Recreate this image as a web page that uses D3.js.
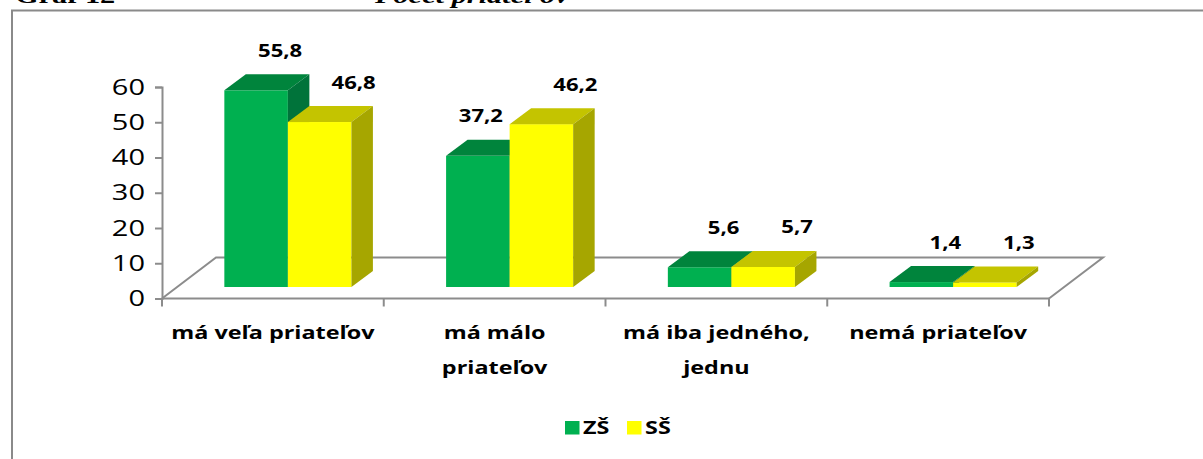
<!DOCTYPE html>
<html>
<head>
<meta charset="utf-8">
<script src="https://cdn.jsdelivr.net/npm/d3@7"></script>
<style>
  body { margin: 0; background: #fff; }
  svg { display: block; }
</style>
</head>
<body>
<div id="chart"></div>
<script>
// data
const categories = [["má veľa priateľov"], ["má málo", "priateľov"], ["má iba jedného,", "jednu"], ["nemá priateľov"]];
const series = ["ZŠ", "SŠ"];
const valuesZS = [55.8, 37.2, 5.6, 1.4];
const valuesSS = [46.8, 46.2, 5.7, 1.3];
const yTicks = [0, 10, 20, 30, 40, 50, 60];

const W = 1203, H = 459;
const SX = 1.3; // picture is stretched sideways
const colors = {
    "ZŠ": { front: "#00b050", top: "#00843c", side: "#00733a" },
    "SŠ": { front: "#ffff00", top: "#c4c400", side: "#a6a600" }
};

const svg = d3.select("#chart").append("svg")
    .attr("width", W)
    .attr("height", H);

// stretched text helper
function label(g, x, y, str, size, weight, anchor, family, sx) {
    return g.append("text")
        .attr("transform", `translate(${x},${y}) scale(${sx || SX},1)`)
        .attr("text-anchor", anchor || "middle")
        .style("font-family", family || "'Open Sans', sans-serif")
        .style("font-size", size + "px")
        .style("font-weight", weight)
        .style("fill", "#000")
        .text(str);
}

// page header (cut off at the top, as in the source page)
label(svg, 15, 3, "Graf  12", 22, "bold", "start", "'Liberation Serif', serif", 1.38);
label(svg, 375, 3, "Počet priateľov", 22, "bold", "start", "'Liberation Serif', serif", 1.38)
    .style("font-style", "italic");

// chart frame
svg.append("rect")
    .attr("x", 12).attr("y", 10.5)
    .attr("width", W).attr("height", H)
    .attr("fill", "none")
    .attr("stroke", "#8a8a8a")
    .attr("stroke-width", 2);

const x0 = 162, x1 = 1049;
const x = d3.scaleBand()
    .domain(d3.range(categories.length))
    .range([x0, x1])
    .paddingInner(0.427)
    .paddingOuter(0.2135);
const xs = d3.scaleBand().domain(series).range([0, x.bandwidth()]);

const y = d3.scaleLinear().domain([0, 60]).range([298.5, 87]);

// floor depth and bar depth
const floorDx = 54, floorDy = -41;
const baseDx = 15, baseDy = -11.5;
const barDx = 21.5, barDy = -16;

const grid = "#8c8c8c";
const floor = svg.append("g")
    .attr("fill", "none")
    .attr("stroke", grid)
    .attr("stroke-width", 2);
floor.append("path")
    .attr("d", `M${x0},${y(0)} L${x0 + floorDx},${y(0) + floorDy} L${x1 + floorDx},${y(0) + floorDy} L${x1},${y(0)}`);
floor.append("line")
    .attr("x1", x0).attr("x2", x1)
    .attr("y1", y(0)).attr("y2", y(0));
// category ticks
const step = x.step();
d3.range(categories.length + 1).forEach(i => {
    const tx = x0 + i * step;
    floor.append("line")
        .attr("x1", tx).attr("x2", tx)
        .attr("y1", y(0)).attr("y2", y(0) + 8);
});

// value axis
const yAxis = svg.append("g")
    .attr("transform", `translate(${x0},0)`)
    .call(d3.axisLeft(y).tickValues(yTicks).tickSize(7).tickPadding(10).tickFormat(d3.format("d")));
yAxis.select(".domain").attr("stroke", grid).attr("stroke-width", 2);
yAxis.selectAll(".tick line").attr("stroke", grid).attr("stroke-width", 2);
yAxis.selectAll(".tick text").remove();
yTicks.forEach(t => {
    label(svg, 145, y(t) + 7.5, String(t), 21, "normal", "end", null, 1.38);
});

// bars
const rows = [];
categories.forEach((c, i) => {
    rows.push({ i, s: "ZŠ", v: valuesZS[i], other: valuesSS[i] });
    rows.push({ i, s: "SŠ", v: valuesSS[i], other: valuesZS[i] });
});

const bars = svg.append("g");
const labels = svg.append("g");
rows.forEach(d => {
    const c = colors[d.s];
    const bx = x(d.i) + xs(d.s) + baseDx;
    const bw = xs.bandwidth();
    const by = y(0) + baseDy;
    const ty = y(d.v) + baseDy;
    const g = bars.append("g");
    g.append("rect")
        .attr("x", bx).attr("y", ty)
        .attr("width", bw).attr("height", by - ty)
        .attr("fill", c.front);
    g.append("path")
        .attr("d", `M${bx},${ty} L${bx + barDx},${ty + barDy} L${bx + bw + barDx},${ty + barDy} L${bx + bw},${ty} Z`)
        .attr("fill", c.top);
    g.append("path")
        .attr("d", `M${bx + bw},${ty} L${bx + bw + barDx},${ty + barDy} L${bx + bw + barDx},${by + barDy} L${bx + bw},${by} Z`)
        .attr("fill", c.side);
    // value label, kept clear of a taller neighbour bar
    let off = d.s === "ZŠ" ? 24 : 34;
    if (d.s === "ZŠ" && d.other > d.v + 3) off = 3;
    label(labels, bx + bw / 2 + off, ty + barDy - 17.5, String(d.v).replace(".", ","), 17, "bold", "middle");
});

// category labels
categories.forEach((lines, i) => {
    const cx = x(i) + x.bandwidth() / 2;
    lines.forEach((ln, j) => {
        label(svg, cx, 339 + j * 35, ln, 18, "bold", "middle");
    });
});

// legend
const legend = svg.append("g");
const legendItems = [{ s: "ZŠ", x: 565 }, { s: "SŠ", x: 627 }];
legendItems.forEach(it => {
    legend.append("rect")
        .attr("x", it.x).attr("y", 421)
        .attr("width", 14.5).attr("height", 13.5)
        .attr("fill", colors[it.s].front);
    label(legend, it.x + 18, 434, it.s, 18, "bold", "start");
});
</script>
</body>
</html>
